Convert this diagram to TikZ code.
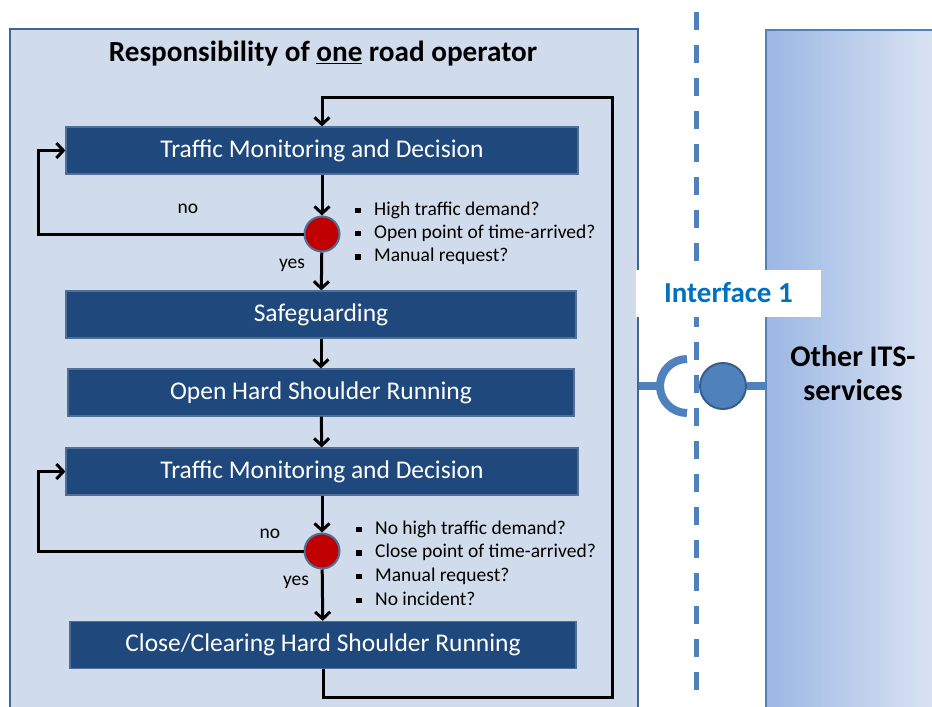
\documentclass[tikz,border=0pt]{standalone}
\usepackage{fontspec}
\setmainfont{Carlito}
\usetikzlibrary{arrows.meta, positioning}
\definecolor{panelfill}{HTML}{D0DCEB}
\definecolor{panelline}{HTML}{3F6899}
\definecolor{boxfill}{HTML}{1F487C}
\definecolor{boxline}{HTML}{4F6F99}
\definecolor{itsblue}{HTML}{4F81BD}
\definecolor{itsdark}{HTML}{385D8A}
\definecolor{labelblue}{HTML}{0070C0}
\definecolor{decred}{HTML}{C00000}
\definecolor{gradleft}{HTML}{9BB7E3}
\definecolor{gradright}{HTML}{DCE4F3}
\newcommand{\sqbullet}{\makebox[19pt][l]{\raisebox{2pt}{\rule{5.5pt}{5.5pt}}}}

\tikzset{
  stepbox/.style={rectangle, draw=boxline, line width=1.2pt, fill=boxfill, text=white,
    font=\fontsize{25.5}{30}\selectfont, minimum height=47pt, inner sep=0pt},
  decision/.style={circle, draw=boxline, line width=2pt, fill=decred, minimum size=35pt, inner sep=0pt},
  flow/.style={-{Straight Barb[length=7pt, width=15pt]}, line width=3pt, black},
  cond/.style={font=\fontsize{19.5}{24}\selectfont, anchor=base west, inner sep=0pt},
  answer/.style={font=\fontsize{19.5}{24}\selectfont, inner sep=0pt},
  sockline/.style={itsblue, line width=8pt},
}

\begin{document}
\begin{tikzpicture}[x=1pt, y=-1pt]
  \useasboundingbox (0,0) rectangle (932,707);
  \clip (0,0) rectangle (932,707);
  \fill[white] (0,0) rectangle (932,707);

  % the two sides
  \node[draw=panelline, line width=2pt, fill=panelfill, anchor=north west,
        minimum width=628pt, minimum height=700pt] (operator) at (9,28) {};
  \node[draw=itsblue, line width=2pt, left color=gradleft, right color=gradright, anchor=north west,
        minimum width=172pt, minimum height=700pt] (its) at (765,29) {};

  \node[font=\bfseries\fontsize{29.2}{33}\selectfont] (title) at (323,54) {Responsibility of \underline{one} road operator};
  \node[font=\bfseries\fontsize{30}{34}\selectfont, align=center] (itslabel) at (853,373) {Other ITS-\\services};

  % interface
  \draw[itsblue, line width=5pt, dash pattern=on 18pt off 15pt] (696,12) -- (696,690);
  \node[fill=white, minimum width=185pt, minimum height=47pt, inner sep=0pt, text=labelblue,
        font=\bfseries\fontsize{29}{32}\selectfont] (iface) at (728.5,293) {Interface 1};
  \coordinate (sock) at (687,386);
  \draw[sockline] (operator.east |- sock) -- (660,386);
  \draw[sockline] (sock) ++(0,-27) arc[start angle=90, end angle=270, radius=27pt];
  \node[circle, draw=itsdark, line width=2pt, fill=itsblue, minimum size=46pt] (ballend) at (723,386) {};
  \draw[sockline] (ballend) -- (ballend -| its.west);

  % process steps
  \node[stepbox, minimum width=512pt] (monA) at (322,150.5) {Traffic Monitoring and Decision};
  \node[decision] (decA) at (322,234) {};
  \node[stepbox, minimum width=510pt] (safe) at (321,314.5) {Safeguarding};
  \node[stepbox, minimum width=506pt] (open) at (321,392.5) {Open Hard Shoulder Running};
  \node[stepbox, minimum width=512pt] (monB) at (322,471.5) {Traffic Monitoring and Decision};
  \node[decision] (decB) at (322,551) {};
  \node[stepbox, minimum width=506pt] (close) at (323,645) {Close/Clearing Hard Shoulder Running};

  \node[answer] (noA) at (188,209) {no};
  \node[answer] (yesA) at (292,265) {yes};
  \node[answer] (noB) at (270,534) {no};
  \node[answer] (yesB) at (296,582) {yes};

  \foreach \txt [count=\i] in {High traffic demand?, Open point of time-arrived?, Manual request?}
    \node[cond] (condA\i) at (355,{215+23.3*(\i-1)}) {\sqbullet\txt};
  \foreach \txt [count=\i] in {No high traffic demand?, Close point of time-arrived?, Manual request?, No incident?}
    \node[cond] (condB\i) at (356,{534+23.7*(\i-1)}) {\sqbullet\txt};

  \coordinate (leftrail) at (38,0);
  \coordinate (retTR) at (612,97);
  \coordinate (retBR) at (612,697);

  \draw[flow] (monA) -- (decA);
  \draw[flow] (decA) -- (safe);
  \draw[flow] (safe) -- (open);
  \draw[flow] (open) -- (monB);
  \draw[flow] (monB) -- (decB);
  \draw[flow] (decB) -- (close);
  \draw[flow] (decA) -- (decA -| leftrail) |- (monA.west);
  \draw[flow] (decB) -- (decB -| leftrail) |- (monB.west);
  \draw[flow] (close.south) -- (close.south |- retBR) -- (retBR) -- (retTR) -- (monA.north |- retTR) -- (monA.north);
\end{tikzpicture}
\end{document}
